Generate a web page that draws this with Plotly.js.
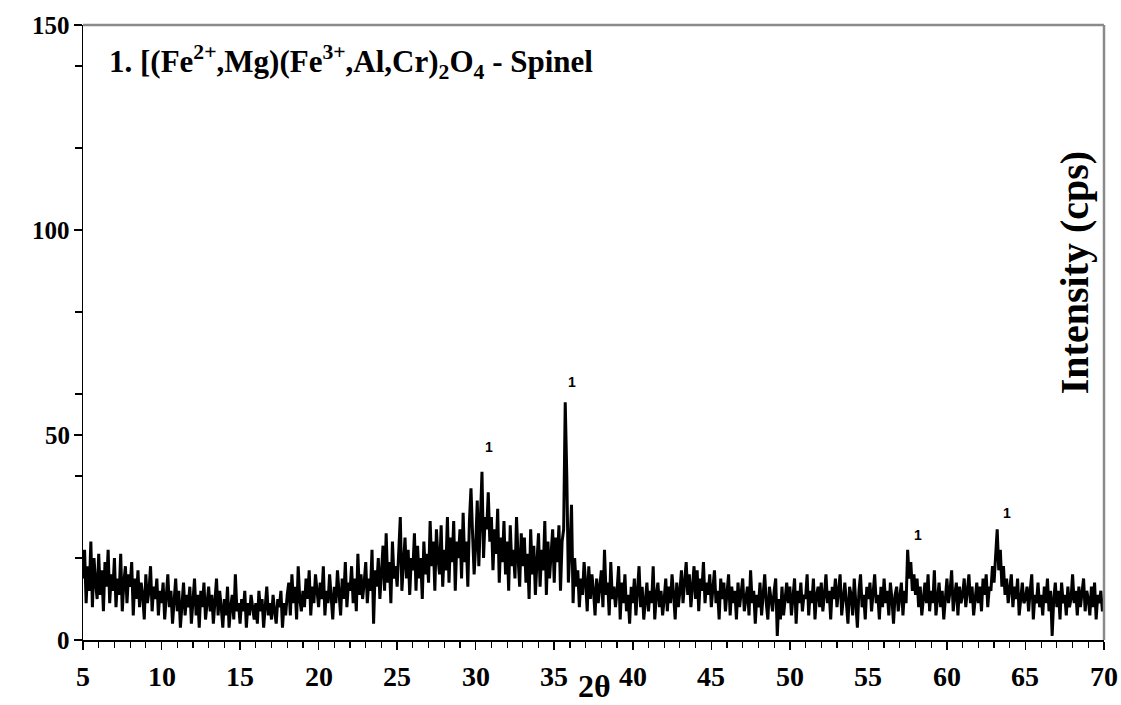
<!DOCTYPE html>
<html>
<head>
<meta charset="utf-8">
<script src="https://cdn.plot.ly/plotly-3.0.1.min.js"></script>
<style>html,body{margin:0;padding:0;background:#fff;}#chart{width:1121px;height:705px;}</style>
</head>
<body>
<div id="chart"></div>
<script>
// 2θ scan: start 5°, step 0.1°, up to 70°
const thetaStart = 5.0;
const thetaStep = 0.1;
// Intensity (cps), one row per degree (d.0 ... d.9)
const intensity = [
  15,22,9,18,12,24,8,20,14,10,   // 5
  21,11,17,7,19,13,22,9,16,12,   // 6
  20,8,15,11,21,7,14,18,9,16,    // 7
  13,19,6,15,10,17,8,14,11,5,    // 8
  16,9,12,18,7,13,10,15,6,12,    // 9
  9,14,5,11,16,8,12,4,10,15,     // 10
  7,12,3,10,14,6,11,8,13,4,      // 11
  9,15,6,11,3,12,8,14,5,10,      // 12
  13,7,11,4,9,15,6,12,8,3,       // 13
  10,6,13,3,8,11,5,16,7,9,       // 14
  4,10,7,12,3,9,6,11,8,5,        // 15
  9,4,12,7,10,3,8,13,6,9,        // 16
  5,11,7,4,10,8,12,3,9,6,        // 17
  11,14,6,16,9,13,5,18,10,7,     // 18
  12,8,15,10,17,6,13,9,16,11,    // 19
  8,14,10,18,6,12,9,16,11,5,     // 20
  13,9,17,11,6,15,10,19,8,14,    // 21
  12,18,9,15,7,21,11,16,10,14,   // 22
  19,9,15,12,22,4,17,13,20,10,   // 23
  16,23,12,26,14,19,9,24,15,18,  // 24
  13,21,30,12,18,25,15,22,11,20, // 25
  17,26,12,23,15,20,10,24,16,21, // 26
  14,29,18,24,12,27,20,16,28,13, // 27
  22,17,30,14,25,19,29,12,24,20, // 28
  27,15,31,19,24,13,29,37,26,16, // 29
  23,34,18,29,41,20,30,27,36,24, // 30
  30,17,27,21,32,14,25,19,29,16, // 31
  24,12,28,18,22,15,30,20,13,26, // 32
  18,25,14,21,10,27,16,23,11,19, // 33
  26,13,22,17,29,11,24,15,20,27, // 34
  14,25,19,28,12,24,27,58,40,14, // 35
  22,33,9,20,13,17,8,15,11,19,   // 36
  14,7,18,10,16,12,6,15,9,13,    // 37
  17,8,22,11,14,6,19,10,13,8,    // 38
  12,18,5,14,9,16,7,11,4,13,     // 39
  9,15,6,12,18,8,13,5,10,14,     // 40
  7,12,9,18,5,11,14,8,12,6,      // 41
  10,15,7,13,9,16,11,5,14,8,     // 42
  12,17,9,14,19,11,16,8,13,18,   // 43
  10,17,7,15,12,19,9,14,11,16,   // 44
  8,13,17,9,12,5,15,10,14,7,     // 45
  11,16,6,13,9,12,5,14,8,11,     // 46
  15,7,10,13,6,17,9,12,4,11,     // 47
  8,14,6,11,16,9,5,13,10,7,      // 48
  12,15,1,10,5,13,6,11,14,9,     // 49
  13,6,10,15,4,12,9,14,7,11,     // 50
  10,16,6,12,9,15,5,11,13,8,     // 51
  14,7,11,16,9,12,5,13,10,15,    // 52
  8,12,16,6,10,14,9,4,13,11,     // 53
  6,15,9,3,12,16,8,11,5,13,      // 54
  10,14,7,12,16,9,11,5,13,8,     // 55
  15,9,12,6,14,10,4,11,13,7,     // 56
  10,14,6,12,9,22,15,19,12,16,   // 57
  11,15,8,13,6,10,14,9,16,7,     // 58
  12,9,17,6,11,14,8,12,5,10,     // 59
  15,9,12,17,7,11,14,6,13,9,     // 60
  11,15,8,12,16,9,13,6,10,14,    // 61
  9,13,7,15,11,16,8,13,12,18,    // 62
  14,20,27,17,22,13,18,11,15,9,  // 63
  12,16,8,13,10,15,6,11,14,9,    // 64
  10,13,7,12,16,5,11,9,14,8,     // 65
  11,6,13,9,15,7,12,1,10,14,     // 66
  8,12,5,14,9,11,6,13,8,10,      // 67
  16,9,12,6,13,8,11,15,7,12,     // 68
  10,6,13,8,14,5,11,9,12,7,      // 69
  9                              // 70
];
const twoTheta = intensity.map((_, i) => +(thetaStart + i * thetaStep).toFixed(1));

// Tick labels
const xTickVals = [5, 10, 15, 20, 25, 30, 35, 40, 45, 50, 55, 60, 65, 70];
const yTickVals = [0, 50, 100, 150];

// Peak markers ("1" = spinel)
const peakLabels = ["1", "1", "1", "1"];
const peakX = [30.85, 36.15, 58.15, 63.8];
const peakY = [47, 63, 25.5, 31];

const chartTitle = "1. [(Fe<sup>2+</sup>,Mg)(Fe<sup>3+</sup>,Al,Cr)<sub>2</sub>O<sub>4</sub> - Spinel";
const xTitle = "2θ";
const yTitle = "Intensity (cps)";

const serif = '"Liberation Serif", "Times New Roman", serif';

const trace = {
  x: twoTheta, y: intensity, type: "scatter", mode: "lines",
  line: {color: "#000", width: 3}, hoverinfo: "x+y", showlegend: false
};

const annotations = peakLabels.map((t, i) => ({
  x: peakX[i], y: peakY[i], xref: "x", yref: "y", text: t, showarrow: false,
  font: {family: '"Liberation Sans", Arial, sans-serif', size: 14, color: "#000", weight: "bold"}
}));
// axis tick labels, placed at the axis values
xTickVals.forEach(v => annotations.push({
  x: v, y: -0.06, xref: "x", yref: "paper", xanchor: "center", yanchor: "middle",
  text: String(v), showarrow: false,
  font: {family: serif, size: 28, color: "#000", weight: "bold"}
}));
yTickVals.forEach(v => annotations.push({
  x: -0.011, y: v, xref: "paper", yref: "y", xanchor: "right", yanchor: "middle",
  text: String(v), showarrow: false,
  font: {family: serif, size: 25, color: "#000", weight: "bold"}
}));
annotations.push({
  x: 0.0235, y: 0.94, xref: "paper", yref: "paper", xanchor: "left", yanchor: "middle",
  text: chartTitle, showarrow: false,
  font: {family: serif, size: 31, color: "#000", weight: "bold"}
});
annotations.push({
  x: 0.5005, y: -0.075, xref: "paper", yref: "paper", xanchor: "center", yanchor: "middle",
  text: xTitle, showarrow: false,
  font: {family: serif, size: 32, color: "#000", weight: "bold"}
});
annotations.push({
  x: 0.9706, y: 0.598, xref: "paper", yref: "paper", xanchor: "center", yanchor: "middle",
  text: yTitle, showarrow: false, textangle: -90,
  font: {family: serif, size: 40, color: "#000", weight: "bold"}
});

const layout = {
  width: 1121, height: 705,
  margin: {l: 83, r: 17, t: 25, b: 65},
  paper_bgcolor: "#fff", plot_bgcolor: "#fff",
  showlegend: false,
  font: {family: serif, color: "#000"},
  xaxis: {
    range: [5, 70], tickmode: "array", tickvals: xTickVals, showticklabels: false,
    showgrid: false, zeroline: false, automargin: false,
    showline: true, linecolor: "#000", linewidth: 1.5,
    ticks: "outside", ticklen: 8, tickwidth: 1.5, tickcolor: "#000",
    minor: {dtick: 1, tick0: 5, ticks: "outside", ticklen: 6, tickwidth: 1.2, tickcolor: "#000", showgrid: false}
  },
  yaxis: {
    range: [0, 150], tickmode: "array", tickvals: yTickVals, showticklabels: false,
    showgrid: false, zeroline: false, automargin: false,
    showline: true, linecolor: "#000", linewidth: 1.5,
    ticks: "outside", ticklen: 8, tickwidth: 1.5, tickcolor: "#000",
    minor: {dtick: 20, tick0: 0, ticks: "outside", ticklen: 7, tickwidth: 1.2, tickcolor: "#000", showgrid: false}
  },
  shapes: [
    {type: "line", xref: "paper", yref: "paper", x0: 0, x1: 1, y0: 1, y1: 1, line: {color: "#8a8a8a", width: 2.5}},
    {type: "line", xref: "paper", yref: "paper", x0: 1, x1: 1, y0: 0, y1: 1, line: {color: "#8a8a8a", width: 2.5}}
  ],
  annotations: annotations
};

Plotly.newPlot("chart", [trace], layout, {displayModeBar: false, staticPlot: true});
</script>
</body>
</html>
